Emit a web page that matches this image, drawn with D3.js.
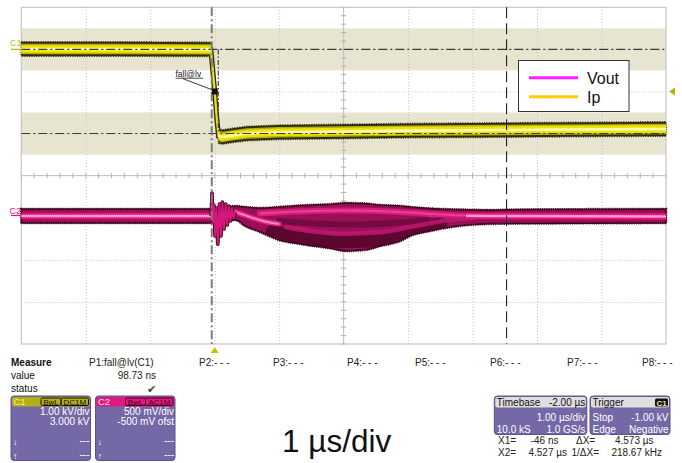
<!DOCTYPE html>
<html><head><meta charset="utf-8">
<script src="https://cdn.jsdelivr.net/npm/d3@7"></script>
<style>body{margin:0;background:#fff}svg{display:block;font-family:"Liberation Sans",Arial,sans-serif}</style>
</head><body><svg id="c" width="682" height="463"></svg>
<script>
// ---------------- data ----------------
const timeDomain = [-3, 7];          // µs (1 µs/div, trigger at 0)
const c1Domain = [-7, 1];            // kV (1.00 kV/div, 3.000 kV offset)
const c2Domain = [-1.5, 2.5];        // V  (500 mV/div, -500 mV offset)
const gridTimes = [-2, -1, 0, 1, 3, 4, 5, 6];
const gridLevelsC1 = [-6, -5, -4, -2, -1, 0];
const centerTime = 2, centerLevelC1 = -3;
const cursorLevelsC1 = [0, -2];
const bandHalfKV = 0.5;
const x1Cursor = -0.046, x2Cursor = 4.527;
const gateEnd = 0.055;
const triggerLevelKV = -1.0;
const fallMarker = [0, -1.0];

// C1 (Ip) trace
const c1Time  = [-3, -1.5, -0.06, -0.03, 0, 0.03, 0.06, 0.12, 0.25, 0.5, 1, 2, 3, 4, 5, 6, 7];
const c1Value = [0.01, 0.01, 0.0, -0.5, -1.0, -1.6, -2.06, -2.08, -2.05, -2.0, -1.97, -1.95, -1.93, -1.92, -1.91, -1.90, -1.89];

// C2 (Vout) persistence envelope
const c2Time  = [-3, -0.05, 0.32, 0.47, 0.70, 1.0, 1.33, 1.8, 2.05, 2.33, 2.57, 2.88, 3.03, 3.34, 3.8, 4.27, 4.74, 7];
const c2Upper = [0.092, 0.092, 0.128, 0.116, 0.104, 0.116, 0.134, 0.151, 0.163, 0.157, 0.140, 0.128, 0.116, 0.098, 0.086, 0.080, 0.086, 0.092];
const c2Lower = [-0.051, -0.051, -0.015, -0.086, -0.157, -0.253, -0.300, -0.353, -0.383, -0.371, -0.324, -0.264, -0.205, -0.146, -0.086, -0.062, -0.057, -0.051];

// C2 ringing right after the trigger, then bright falling streak
const c2RingTime = [-0.054, -0.042, -0.029, -0.014, 0.005, 0.026, 0.048, 0.073, 0.098, 0.119, 0.144, 0.169, 0.194, 0.219, 0.243, 0.268, 0.293, 0.318];
const c2RingV    = [0.021, 0.294, -0.050, 0.152, -0.217, 0.116, -0.313, 0.164, -0.217, 0.187, -0.134, 0.164, -0.086, 0.140, -0.039, 0.116, -0.003, 0.069];
const c2FallStreakTime = [0.318, 0.5, 0.75, 1.0];
const c2FallStreakV    = [0.069, 0.021, -0.039, -0.074];
// baseline core segments (pre-trigger and settled)
const c2PreTime = [-3, -0.054];
const c2PreV = [0.021, 0.021];
const c2PostTime = [3.9, 4.3, 7];
const c2PostV = [0.024, 0.021, 0.015];
// upper streak through the bulge
const c2UpperStreakTime = [0.7, 1.3, 2.0, 2.8, 3.3, 3.8, 4.3];
const c2UpperStreakV    = [0.050, 0.075, 0.085, 0.072, 0.048, 0.028, 0.021];
// lower streak
const c2LowerStreakTime = [1.1, 1.5, 2.0, 2.6, 3.1, 3.6, 4.0];
const c2LowerStreakV    = [-0.11, -0.16, -0.19, -0.17, -0.10, -0.03, -0.005];
// dark region in the lower half of the bulge
const c2DarkTime = [0.9, 1.4, 2.0, 2.6, 3.1, 3.5];
const c2DarkV    = [-0.17, -0.24, -0.28, -0.26, -0.17, -0.08];
// mid dark band between streaks
const c2MidDarkTime = [1.0, 1.6, 2.2, 2.8, 3.3];
const c2MidDarkV    = [-0.04, -0.07, -0.08, -0.06, -0.03];

// legend
const legendNames = ["Vout", "Ip"];
const legendColors = ["#ff1eff", "#ffcc00"];

// readouts
const measureLabels = ["Measure", "value", "status"];
const paramLabels = ["P2:- - -", "P3:- - -", "P4:- - -", "P5:- - -", "P6:- - -", "P7:- - -", "P8:- - -"];
const paramX = [199, 273, 347, 415, 490, 567, 642];

// ---------------- drawing ----------------
const svg = d3.select("#c");
const L = 21.3, R = 666, T = 7.3, B = 344;
const x = d3.scaleLinear().domain(timeDomain).range([L, R]);
const yC1 = d3.scaleLinear().domain(c1Domain).range([B, T]);
const yC2 = d3.scaleLinear().domain(c2Domain).range([B, T]);

// shaded bands
svg.selectAll(".band").data(cursorLevelsC1).enter().append("rect")
  .attr("x", L).attr("width", R - L)
  .attr("y", d => yC1(d + bandHalfKV)).attr("height", d => yC1(d - bandHalfKV) - yC1(d + bandHalfKV))
  .attr("fill", "#e7e5d0");

// grid via axes
const gx = svg.append("g").attr("transform", `translate(0,${B})`)
  .call(d3.axisBottom(x).tickValues(gridTimes).tickSize(-(B - T)).tickFormat(""));
gx.select(".domain").remove();
gx.selectAll("line").attr("stroke", "#c4c4c4").attr("stroke-dasharray", "1,2");
const gy = svg.append("g").attr("transform", `translate(${L},0)`)
  .call(d3.axisLeft(yC1).tickValues(gridLevelsC1).tickSize(-(R - L)).tickFormat(""));
gy.select(".domain").remove();
gy.selectAll("line").attr("stroke", "#c4c4c4").attr("stroke-dasharray", "1,2");

// center axes with minor ticks
const cx = x(centerTime), cy = yC1(centerLevelC1);
svg.append("line").attr("x1", L).attr("x2", R).attr("y1", cy).attr("y2", cy).attr("stroke", "#bdbdbd");
svg.append("line").attr("x1", cx).attr("x2", cx).attr("y1", T).attr("y2", B).attr("stroke", "#bdbdbd");
const minorT = d3.range(timeDomain[0], timeDomain[1] + 1e-9, 0.2);
svg.selectAll(".mtx").data(minorT).enter().append("line")
  .attr("x1", d => x(d)).attr("x2", d => x(d)).attr("y1", cy - 2.5).attr("y2", cy + 2.5).attr("stroke", "#b0b0b0");
const minorV = d3.range(c1Domain[0], c1Domain[1] + 1e-9, 0.2);
svg.selectAll(".mty").data(minorV).enter().append("line")
  .attr("y1", d => yC1(d)).attr("y2", d => yC1(d)).attr("x1", cx - 2.5).attr("x2", cx + 2.5).attr("stroke", "#b0b0b0");

// frame
svg.append("rect").attr("x", L).attr("y", T).attr("width", R - L).attr("height", B - T)
  .attr("fill", "none").attr("stroke", "#c6c6c6").attr("stroke-width", 1.2);

// ---- C2 trace ----
const defs = svg.append("defs");
const clip = defs.append("clipPath").attr("id", "envclip");
const c2Env = c2Time.map((t, i) => ({ t, u: c2Upper[i], l: c2Lower[i] }));
const envArea = d3.area().x(d => x(d.t)).y0(d => yC2(d.l) + 1).y1(d => yC2(d.u) - 1).curve(d3.curveMonotoneX);
clip.append("path").datum(c2Env).attr("d", envArea);

svg.append("path").datum(c2Env).attr("d", envArea).attr("fill", "#9a1057")
  .attr("stroke", "#3a0618").attr("stroke-width", 2.6).attr("stroke-dasharray", "1,1.2");
svg.append("path").datum(c2Env).attr("d", envArea).attr("fill", "none")
  .attr("stroke", "#40061e").attr("stroke-width", 1.3);

const pts = (ts, vs) => ts.map((t, i) => [t, vs[i]]);
const line2 = d3.line().x(d => x(d[0])).y(d => yC2(d[1]));
const lineSmooth2 = d3.line().x(d => x(d[0])).y(d => yC2(d[1])).curve(d3.curveMonotoneX);
const inner = svg.append("g").attr("clip-path", "url(#envclip)");

inner.append("path").datum(pts(c2DarkTime, c2DarkV)).attr("d", lineSmooth2).attr("fill", "none")
  .attr("stroke", "#4a0425").attr("stroke-width", 14).attr("opacity", 0.78).attr("stroke-linecap", "round");
inner.append("path").datum(pts(c2MidDarkTime, c2MidDarkV)).attr("d", lineSmooth2).attr("fill", "none")
  .attr("stroke", "#5e0532").attr("stroke-width", 6).attr("opacity", 0.6).attr("stroke-linecap", "round");
inner.append("path").datum(pts(c2UpperStreakTime, c2UpperStreakV)).attr("d", lineSmooth2).attr("fill", "none")
  .attr("stroke", "#d81c7a").attr("stroke-width", 6).attr("stroke-linecap", "round");
inner.append("path").datum(pts(c2UpperStreakTime, c2UpperStreakV)).attr("d", lineSmooth2).attr("fill", "none")
  .attr("stroke", "#ee4f9a").attr("stroke-width", 2).attr("opacity", 0.75);
inner.append("path").datum(pts(c2LowerStreakTime, c2LowerStreakV)).attr("d", lineSmooth2).attr("fill", "none")
  .attr("stroke", "#c01870").attr("stroke-width", 4.5).attr("opacity", 0.85).attr("stroke-linecap", "round");
inner.append("path").datum(pts(c2FallStreakTime, c2FallStreakV)).attr("d", lineSmooth2).attr("fill", "none")
  .attr("stroke", "#e62585").attr("stroke-width", 5).attr("stroke-linecap", "round");
inner.append("path").datum(pts(c2FallStreakTime, c2FallStreakV)).attr("d", lineSmooth2).attr("fill", "none")
  .attr("stroke", "#ff9ccd").attr("stroke-width", 2).attr("opacity", 0.85);

// baseline cores
[pts(c2PreTime, c2PreV), pts(c2PostTime, c2PostV)].forEach(seg => {
  svg.append("path").datum(seg).attr("d", line2).attr("fill", "none").attr("stroke", "#e6157e").attr("stroke-width", 6.5);
  svg.append("path").datum(seg).attr("d", line2).attr("fill", "none").attr("stroke", "#ff9fd0").attr("stroke-width", 2.4);
});

// ringing
const ring = pts(c2RingTime, c2RingV);
svg.append("path").datum(ring).attr("d", line2).attr("fill", "none")
  .attr("stroke", "#2e0414").attr("stroke-width", 3.6).attr("stroke-linejoin", "round");
svg.append("path").datum(ring).attr("d", line2).attr("fill", "none")
  .attr("stroke", "#d8157c").attr("stroke-width", 2).attr("stroke-linejoin", "round");

// ---- C1 trace ----
const c1 = c1Time.map((t, i) => [x(t), yC1(c1Value[i])]);
const bandA = h => d3.area().x(d => d[0]).y0(d => d[1] + h).y1(d => d[1] - h);
const lineP = d3.line().x(d => d[0]).y(d => d[1]);
svg.append("path").datum(c1).attr("d", lineP).attr("fill", "none").attr("stroke", "#2b2b0c").attr("stroke-width", 5);
svg.append("path").datum(c1).attr("d", bandA(7.2)).attr("fill", "#2f2f10")
  .attr("stroke", "#2f2f10").attr("stroke-width", 1.6).attr("stroke-dasharray", "1,1.4");
svg.append("path").datum(c1).attr("d", bandA(5.2)).attr("fill", "#b4ac18");
svg.append("path").datum(c1).attr("d", lineP).attr("fill", "none").attr("stroke", "#e8dc00").attr("stroke-width", 2.4);
svg.append("path").datum(c1).attr("d", bandA(3.8)).attr("fill", "#eee300");
svg.append("path").datum(c1).attr("d", bandA(1.3)).attr("fill", "#fffbb4");

// horizontal cursors (dash-dot)
svg.selectAll(".hc").data(cursorLevelsC1).enter().append("line")
  .attr("x1", L).attr("x2", R).attr("y1", d => yC1(d)).attr("y2", d => yC1(d))
  .attr("stroke", "#3c3c3c").attr("stroke-width", 1.1).attr("stroke-dasharray", "9,3,2,3");
// measurement gate edge
svg.append("line").attr("x1", x(gateEnd)).attr("x2", x(gateEnd))
  .attr("y1", yC1(cursorLevelsC1[0])).attr("y2", yC1(cursorLevelsC1[1]))
  .attr("stroke", "#333").attr("stroke-width", 1.1).attr("stroke-dasharray", "5,2,1.5,2");
// vertical cursors
svg.append("line").attr("x1", x(x1Cursor)).attr("x2", x(x1Cursor)).attr("y1", T).attr("y2", B)
  .attr("stroke", "#7c7c7c").attr("stroke-width", 2).attr("stroke-dasharray", "9,3,2,3");
svg.append("line").attr("x1", x(x2Cursor)).attr("x2", x(x2Cursor)).attr("y1", T).attr("y2", B)
  .attr("stroke", "#222").attr("stroke-width", 1.1).attr("stroke-dasharray", "11,5");

// fall@lv marker
const fx = x(fallMarker[0]), fy = yC1(fallMarker[1]);
svg.append("rect").attr("x", fx - 3).attr("y", fy - 3).attr("width", 6).attr("height", 6).attr("fill", "#111");
svg.append("line").attr("x1", 182.5).attr("y1", 78.5).attr("x2", fx - 2).attr("y2", fy - 1.5).attr("stroke", "#222").attr("stroke-width", 0.9);
svg.append("text").attr("x", 175.5).attr("y", 76.5).attr("font-size", 8.5).attr("fill", "#222").text("fall@lv");
svg.append("line").attr("x1", 175.5).attr("x2", 203).attr("y1", 78.2).attr("y2", 78.2).attr("stroke", "#222").attr("stroke-width", 0.8);

// channel labels
svg.append("text").attr("x", 10).attr("y", 46).attr("font-size", 9).attr("fill", "#c4bc00").text("C1");
svg.append("line").attr("x1", 11).attr("x2", L).attr("y1", yC1(0)).attr("y2", yC1(0)).attr("stroke", "#c4bc00").attr("stroke-width", 1.4);
svg.append("text").attr("x", 9.5).attr("y", 214).attr("font-size", 9).attr("fill", "#e0147c").text("C2");
svg.append("line").attr("x1", 11).attr("x2", L).attr("y1", yC2(0.021) - 0.5).attr("y2", yC2(0.021) - 0.5).attr("stroke", "#e0147c").attr("stroke-width", 1.2);

// trigger markers
const ty = yC1(triggerLevelKV);
svg.append("path").attr("d", `M${R + 3},${ty} L${R + 9},${ty - 4} L${R + 9},${ty + 4} Z`).attr("fill", "#bcb400");
const tx = x(0);
svg.append("path").attr("d", `M${tx},${B + 3} L${tx - 4},${B + 9} L${tx + 4},${B + 9} Z`).attr("fill", "#c8c000");

// legend
const lg = svg.append("g");
lg.append("rect").attr("x", 518.5).attr("y", 60.5).attr("width", 110.5).attr("height", 51)
  .attr("fill", "#fff").attr("stroke", "#333").attr("stroke-width", 1);
lg.selectAll(".ll").data(legendNames).enter().append("line")
  .attr("x1", 529).attr("x2", 578).attr("y1", (d, i) => 77.7 + i * 19).attr("y2", (d, i) => 77.7 + i * 19)
  .attr("stroke", (d, i) => legendColors[i]).attr("stroke-width", 3);
lg.selectAll(".lt").data(legendNames).enter().append("text")
  .attr("x", 587).attr("y", (d, i) => 83.5 + i * 19).attr("font-size", 16).attr("fill", "#111").text(d => d);

// ---------------- bottom panel ----------------
const txt = (xx, yy, s, opt = {}) => svg.append("text").attr("x", xx).attr("y", yy)
  .attr("font-size", opt.size || 10).attr("fill", opt.fill || "#222")
  .attr("font-weight", opt.bold ? "bold" : null).attr("text-anchor", opt.anchor || "start").text(s);

measureLabels.forEach((s, i) => txt(11, 366 + i * 13, s, { bold: i === 0, fill: "#111" }));
txt(89, 366, "P1:fall@lv(C1)");
txt(156, 379, "98.73 ns", { anchor: "end" });
txt(156, 392.5, "✔", { anchor: "end", size: 11, fill: "#444" });
paramLabels.forEach((s, i) => txt(paramX[i], 366, s));

// channel boxes
function chanBox(bx, col, name, nameFill, tag1, tag2, tagStroke, tagFill, l1, l2) {
  svg.append("rect").attr("x", bx).attr("y", 396).attr("width", 79.5).attr("height", 64.5).attr("rx", 3)
    .attr("fill", "#7468a6").attr("stroke", "#5d5290").attr("stroke-width", 1);
  svg.append("rect").attr("x", bx + 1).attr("y", 397).attr("width", 77.5).attr("height", 9.5).attr("rx", 2).attr("fill", col);
  txt(bx + 2.5, 405, name, { size: 9.5, fill: nameFill });
  svg.append("rect").attr("x", bx + 30).attr("y", 398).attr("width", 20).attr("height", 7.5).attr("rx", 1.5)
    .attr("fill", "none").attr("stroke", tagStroke).attr("stroke-width", 1);
  svg.append("rect").attr("x", bx + 50).attr("y", 398).attr("width", 27.5).attr("height", 7.5).attr("rx", 1.5)
    .attr("fill", "none").attr("stroke", tagStroke).attr("stroke-width", 1);
  txt(bx + 40, 404.8, tag1, { size: 8, fill: tagFill, anchor: "middle" });
  txt(bx + 63.8, 404.8, tag2, { size: 8, fill: tagFill, anchor: "middle" });
  txt(bx + 78.5, 414.5, l1, { fill: "#fff", anchor: "end" });
  txt(bx + 78.5, 424.5, l2, { fill: "#fff", anchor: "end" });
  txt(bx + 2, 444.5, "↓", { fill: "#fff", size: 9 });
  txt(bx + 2, 459, "↑", { fill: "#fff", size: 9 });
  txt(bx + 78.5, 443.5, "---", { fill: "#fff", anchor: "end" });
  txt(bx + 78.5, 457.5, "---", { fill: "#fff", anchor: "end" });
}
chanBox(11, "#b3ae12", "C1", "#f4f0a0", "BwL", "DC1M", "#111", "#111", "1.00 kV/div", "3.000 kV");
chanBox(95.5, "#e3187f", "C2", "#ffe0f0", "BwL", "AC1M", "#4a0020", "#3a0018", "500 mV/div", "-500 mV ofst");

// time/div
txt(282, 452, "1 µs/div", { size: 31.5, fill: "#111" });

// timebase & trigger boxes
function infoBox(bx, w, h1l, h1r, rows, tagR) {
  svg.append("rect").attr("x", bx).attr("y", 396).attr("width", w).attr("height", 38.5).attr("rx", 3)
    .attr("fill", "#7468a6").attr("stroke", "#5d5290");
  svg.append("rect").attr("x", bx + 1).attr("y", 397).attr("width", w - 2).attr("height", 10.5).attr("rx", 2).attr("fill", "#dedede");
  txt(bx + 2.5, 406, h1l, { fill: "#111" });
  if (tagR) {
    svg.append("rect").attr("x", bx + w - 15).attr("y", 398.5).attr("width", 13).attr("height", 8).attr("rx", 1.5).attr("fill", "#111");
    txt(bx + w - 8.5, 405.5, h1r, { fill: "#e8e8a0", size: 8, anchor: "middle", bold: true });
  } else {
    txt(bx + w - 1.5, 406, h1r, { fill: "#111", anchor: "end" });
  }
  rows.forEach((r, i) => {
    if (r[0]) txt(bx + 2.5, 421 + i * 11.5, r[0], { fill: "#fff" });
    if (r[1]) txt(bx + w - 1.5, 421 + i * 11.5, r[1], { fill: "#fff", anchor: "end" });
  });
}
infoBox(494.3, 92.5, "Timebase", "-2.00 µs", [["", "1.00 µs/div"], ["10.0 kS", "1.0 GS/s"]], false);
infoBox(590, 80, "Trigger", "C1", [["Stop", "-1.00 kV"], ["Edge", "Negative"]], true);

// cursor readouts
txt(498, 444, "X1=");
txt(558.5, 444, "-46 ns", { anchor: "end" });
txt(576, 444, "ΔX=");
txt(653.5, 444, "4.573 µs", { anchor: "end" });
txt(498, 455.5, "X2=");
txt(567, 455.5, "4.527 µs", { anchor: "end" });
txt(571.5, 455.5, "1/ΔX=");
txt(662, 455.5, "218.67 kHz", { anchor: "end" });
</script></body></html>
